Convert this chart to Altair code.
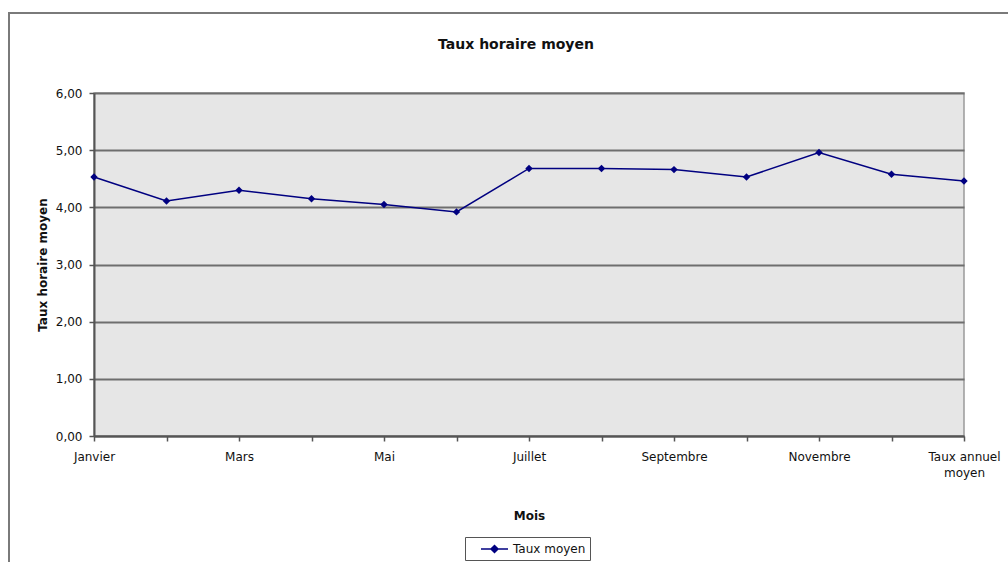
import altair as alt
import pandas as pd

# Monthly average hourly rate, plus the yearly average as the last category
mois = ["Janvier", "Février", "Mars", "Avril", "Mai", "Juin", "Juillet",
        "Août", "Septembre", "Octobre", "Novembre", "Décembre", "Taux annuel moyen"]
taux = [4.53, 4.11, 4.30, 4.15, 4.05, 3.92, 4.68, 4.68, 4.66, 4.53, 4.96, 4.58, 4.46]
serie = "Taux moyen"
titre = "Taux horaire moyen"
libelles_affiches = ["Janvier", "Mars", "Mai", "Juillet", "Septembre", "Novembre"]
graduations_y = [0, 1, 2, 3, 4, 5, 6]

df = pd.DataFrame({"Mois": mois, "Taux": taux, "Serie": [serie] * len(mois)})

FONT = "DejaVu Sans"
NAVY = "#000080"
W, H = 870, 343

label_expr = (
    "datum.value == 'Taux annuel moyen' ? ['Taux annuel', 'moyen'] : "
    "(indexof(" + str(libelles_affiches) + ", datum.value) >= 0 ? datum.value : '')"
)

x_enc = alt.X(
    "Mois:N",
    sort=mois,
    scale=alt.Scale(type="point", padding=0),
    axis=alt.Axis(
        title="Mois", titleFont=FONT, titleFontSize=12, titleFontWeight="bold",
        titleColor="#111", titleY=79, titleBaseline="middle",
        labelExpr=label_expr, labelAngle=0, labelOverlap=False,
        labelFont=FONT, labelFontSize=12, labelColor="#111", labelPadding=10,
        labelLineHeight=16,
        domainColor="#555", domainWidth=2, tickColor="#555", tickWidth=1.5,
        tickSize=5, grid=False,
    ),
)
y_enc = alt.Y(
    "Taux:Q",
    scale=alt.Scale(domain=[0, 6], nice=False, zero=True),
    axis=alt.Axis(
        title=titre, titleFont=FONT, titleFontSize=12,
        titleFontWeight="bold", titleColor="#111", titleX=-52,
        titleY=H / 2, titleBaseline="middle", titleAlign="center",
        values=graduations_y,
        labelExpr="replace(format(datum.value, '.2f'), '.', ',')",
        labelFont=FONT, labelFontSize=12, labelColor="#111", labelPadding=7,
        domainColor="#555", domainWidth=2, tickColor="#555", tickWidth=1.5,
        tickSize=5, grid=True, gridColor="#6e6e6e", gridWidth=2,
    ),
)

# Legend entry: a short line with a diamond, drawn to the right of the slot
symbole = "M0.57,0L4.43,0M2.5,-0.5L3.0,0L2.5,0.5L2.0,0Z"

ligne = alt.Chart(df).mark_line(strokeWidth=1.5).encode(
    x=x_enc,
    y=y_enc,
    color=alt.Color(
        "Serie:N",
        scale=alt.Scale(range=[NAVY]),
        legend=alt.Legend(
            title=None, orient="none", legendX=371, legendY=444,
            symbolType=symbole, symbolSize=14 * 14, symbolStrokeWidth=1.5,
            symbolFillColor=NAVY, symbolStrokeColor=NAVY,
            labelFont=FONT, labelFontSize=12, labelColor="#111", labelOffset=28,
            padding=4, strokeColor="#555", fillColor="white",
        ),
    ),
)

points = alt.Chart(df).mark_point(
    shape="diamond", filled=True, size=55, color=NAVY, opacity=1
).encode(x=alt.X("Mois:N", sort=mois), y="Taux:Q")

premier = alt.datum.Mois == "Janvier"

# Outer frame of the chart sheet (left and top edges)
cadre_gauche = alt.Chart(df).mark_rule(color="#7a7a7a", strokeWidth=2).encode(
    x=alt.value(-85), y=alt.value(-80), y2=alt.value(480)
).transform_filter(premier)
cadre_haut = alt.Chart(df).mark_rule(color="#7a7a7a", strokeWidth=2).encode(
    y=alt.value(-80), x=alt.value(-86), x2=alt.value(930)
).transform_filter(premier)

# Chart title, centred above the plot
texte_titre = alt.Chart(df).mark_text(
    font=FONT, fontSize=14, fontWeight="bold", color="#111", baseline="middle"
).encode(
    x=alt.value(422), y=alt.value(-48), text=alt.value(titre)
).transform_filter(premier)

chart = (
    alt.layer(ligne, points, cadre_gauche, cadre_haut, texte_titre)
    .properties(
        width=W,
        height=H,
        autosize=alt.AutoSizeParams(type="none"),
        padding={"left": 94, "top": 93, "right": 44, "bottom": 126},
        background="white",
    )
    .configure_view(fill="#e6e6e6", stroke="#9a9a9a", strokeWidth=1.5)
)

chart.save("out.html", embed_options={"renderer": "svg", "actions": False})
